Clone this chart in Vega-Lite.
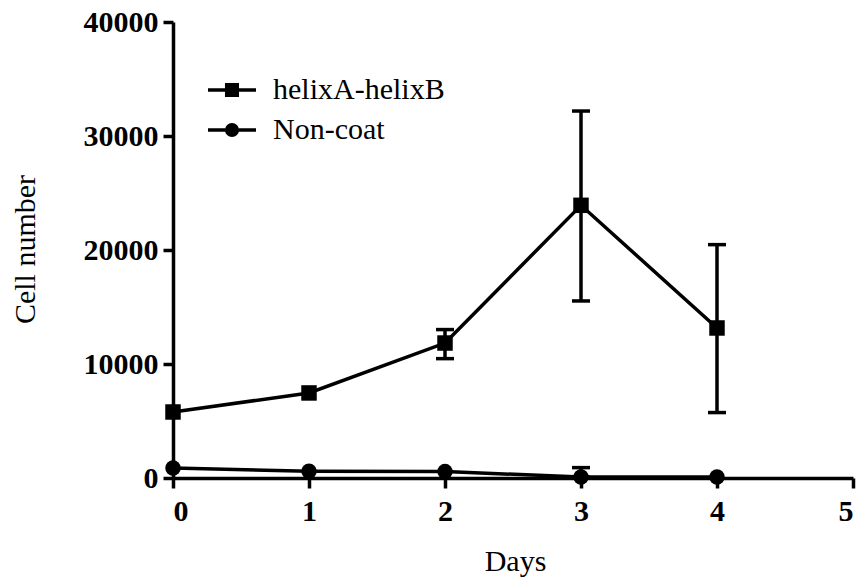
{
  "$schema": "https://vega.github.io/schema/vega-lite/v6.json",
  "width": 680,
  "height": 456,
  "autosize": "none",
  "padding": {"left": 173, "top": 22, "right": 14, "bottom": 102},
  "background": "white",
  "config": {
    "view": {"stroke": null},
    "font": "Liberation Serif",
    "axis": {
      "domainColor": "black",
      "domainWidth": 3.5,
      "tickColor": "black",
      "tickWidth": 3.5,
      "tickSize": 10,
      "grid": false,
      "labelFont": "Liberation Serif",
      "labelFontSize": 30,
      "labelFontWeight": "bold",
      "labelColor": "black",
      "titleFont": "Liberation Serif",
      "titleFontSize": 30,
      "titleFontWeight": "normal",
      "titleColor": "black"
    }
  },
  "datasets": {
    "main": [
      {"day": 0, "series": "helixA-helixB", "value": 5790},
      {"day": 1, "series": "helixA-helixB", "value": 7460},
      {"day": 2, "series": "helixA-helixB", "value": 11840},
      {"day": 3, "series": "helixA-helixB", "value": 23920},
      {"day": 4, "series": "helixA-helixB", "value": 13160},
      {"day": 0, "series": "Non-coat", "value": 880},
      {"day": 1, "series": "Non-coat", "value": 590},
      {"day": 2, "series": "Non-coat", "value": 560},
      {"day": 3, "series": "Non-coat", "value": 90},
      {"day": 4, "series": "Non-coat", "value": 90}
    ],
    "errs": [
      {"day": 2, "series": "helixA-helixB", "lo": 10470, "hi": 13020},
      {"day": 3, "series": "helixA-helixB", "lo": 15530, "hi": 32190},
      {"day": 4, "series": "helixA-helixB", "lo": 5740, "hi": 20470},
      {"day": 3, "series": "Non-coat", "lo": 90, "hi": 910}
    ]
  },
  "layer": [
    {
      "data": {"name": "main"},
      "mark": {"type": "line", "color": "black", "strokeWidth": 3.5, "clip": false},
      "encoding": {
        "x": {
          "field": "day", "type": "quantitative",
          "scale": {"domain": [0, 5], "nice": false},
          "axis": {"values": [0, 1, 2, 3, 4, 5], "format": "d", "title": "Days", "labelPadding": 8, "titleX": 342, "titleY": 92, "titleBaseline": "alphabetic", "titleAnchor": null, "titleAlign": "center"}
        },
        "y": {
          "field": "value", "type": "quantitative",
          "scale": {"domain": [0, 40000], "nice": false},
          "axis": {"values": [0, 10000, 20000, 30000, 40000], "format": "d", "title": "Cell number", "labelPadding": 5, "titleX": -139, "titleY": 227, "titleAngle": -90, "titleBaseline": "alphabetic", "titleAlign": "center"}
        },
        "detail": {"field": "series"}
      }
    },
    {
      "data": {"name": "errs"},
      "mark": {"type": "rule", "color": "black", "strokeWidth": 3.5, "clip": false},
      "encoding": {
        "x": {"field": "day", "type": "quantitative"},
        "y": {"field": "lo", "type": "quantitative"},
        "y2": {"field": "hi"}
      }
    },
    {
      "data": {"name": "errs"},
      "mark": {"type": "tick", "orient": "horizontal", "color": "black", "size": 18, "thickness": 3.5, "opacity": 1},
      "encoding": {
        "x": {"field": "day", "type": "quantitative"},
        "y": {"field": "lo", "type": "quantitative"}
      }
    },
    {
      "data": {"name": "errs"},
      "mark": {"type": "tick", "orient": "horizontal", "color": "black", "size": 18, "thickness": 3.5, "opacity": 1},
      "encoding": {
        "x": {"field": "day", "type": "quantitative"},
        "y": {"field": "hi", "type": "quantitative"}
      }
    },
    {
      "data": {"name": "main"},
      "mark": {"type": "point", "filled": true, "color": "black", "opacity": 1, "size": 240, "clip": false},
      "encoding": {
        "x": {"field": "day", "type": "quantitative"},
        "y": {"field": "value", "type": "quantitative"},
        "shape": {
          "field": "series", "type": "nominal",
          "scale": {"domain": ["helixA-helixB", "Non-coat"], "range": ["square", "circle"]},
          "legend": null
        }
      }
    },
    {
      "data": {"name": "main"},
      "mark": {"type": "point", "filled": false, "color": "black", "strokeWidth": 3.5, "opacity": 0, "size": 576},
      "encoding": {
        "x": {"field": "day", "type": "quantitative"},
        "y": {"field": "value", "type": "quantitative"},
        "shape": {
          "field": "series", "type": "nominal",
          "scale": {
            "domain": ["helixA-helixB", "Non-coat"],
            "range": [
              "M -2 0 L 2 0 M -0.44 -0.44 L 0.44 -0.44 L 0.44 0.44 L -0.44 0.44 Z M -0.44 -0.22 L 0.44 -0.22 M -0.44 0.22 L 0.44 0.22",
              "M -2 0 L 2 0 M -0.44 0 A 0.44 0.44 0 1 0 0.44 0 A 0.44 0.44 0 1 0 -0.44 0 Z M -0.15 0 A 0.15 0.15 0 1 0 0.15 0 A 0.15 0.15 0 1 0 -0.15 0 Z"
            ]
          },
          "legend": {
            "title": null,
            "orient": "none",
            "legendX": 44,
            "legendY": 53,
            "padding": 0,
            "symbolSize": 576,
            "symbolOpacity": 1,
            "symbolStrokeColor": "black",
            "symbolStrokeWidth": 3.5,
            "labelFont": "Liberation Serif",
            "labelFontSize": 30,
            "labelColor": "black",
            "labelOffset": 26,
            "labelBaseline": "middle",
            "labelLimit": 400,
            "rowPadding": 10
          }
        }
      }
    }
  ],
  "resolve": {"scale": {"shape": "independent"}, "legend": {"shape": "independent"}}
}
